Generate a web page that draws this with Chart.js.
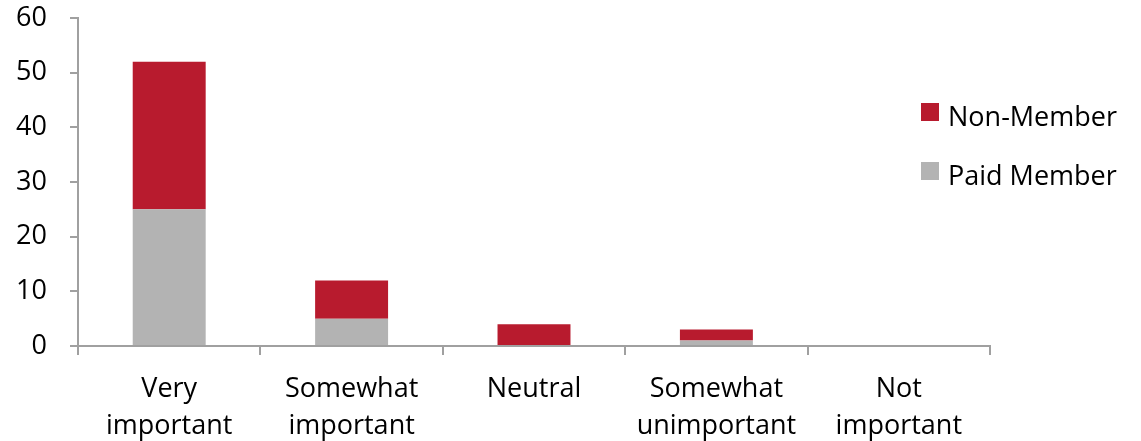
<!DOCTYPE html>
<html>
<head>
<meta charset="utf-8">
<script src="https://cdn.jsdelivr.net/npm/chart.js@4.4.0/dist/chart.umd.min.js"></script>
<style>
  html, body { margin: 0; padding: 0; background: #fff; }
  #wrap { position: relative; width: 1141px; height: 441px; }
  #legend { position: absolute; left: 921px; top: 103px; font-family: 'Open Sans', sans-serif; font-size: 27px; color: #000; }
  #legend .item { display: flex; align-items: center; height: 18px; margin-bottom: 41px; white-space: nowrap; }
  #legend .box { width: 18px; height: 18px; margin-right: 9px; flex: none; }
  #legend .txt { position: relative; top: 3px; }
</style>
</head>
<body>
<div id="wrap">
  <canvas id="chart"></canvas>
  <div id="legend"></div>
</div>
<script>
// Importance ratings — stacked bars by membership type

const categories = [['Very', 'important'], ['Somewhat', 'important'], 'Neutral', ['Somewhat', 'unimportant'], ['Not', 'important']];
const paidMember = [25, 5, 0, 1, 0];
const nonMember  = [27, 7, 4, 2, 0];
const yTicks = [0, 10, 20, 30, 40, 50, 60];

const RED  = '#b81b2e';
const GREY = '#b3b3b3';
const AXIS = '#a0a0a0';

Chart.defaults.font = { family: "'Open Sans', sans-serif", size: 27 };
Chart.defaults.color = '#000';

const chart = new Chart(document.getElementById('chart'), {
  type: 'bar',
  data: {
    labels: categories,
    datasets: [
      { label: 'Paid Member', data: paidMember, backgroundColor: GREY },
      { label: 'Non-Member',  data: nonMember,  backgroundColor: RED },
    ],
  },
  options: {
    responsive: true,
    maintainAspectRatio: false,
    animation: false,
    layout: { padding: { top: 0, right: 151, left: 0, bottom: 0 } },
    categoryPercentage: 0.4,
    barPercentage: 1,
    plugins: { legend: { display: false }, tooltip: { enabled: false } },
    scales: {
      x: {
        stacked: true,
        grid: { display: true, drawOnChartArea: false, tickLength: 9, color: AXIS, lineWidth: 2 },
        border: { color: AXIS, width: 2 },
        ticks: { padding: 15, maxRotation: 0, font: { lineHeight: 1.4 } },
        afterFit: (s) => { s.height = 95; },
      },
      y: {
        stacked: true,
        min: 0,
        max: 60,
        afterBuildTicks: (s) => { s.ticks = yTicks.map(v => ({ value: v })); },
        grid: { display: true, drawOnChartArea: false, tickLength: 8, color: AXIS, lineWidth: 2 },
        border: { color: AXIS, width: 2 },
        ticks: { padding: 23 },
        afterFit: (s) => { s.width = 78; s.paddingTop = 18; },
      },
    },
  },
});

// legend: top of stack first
const legend = document.getElementById('legend');
chart.data.datasets.slice().reverse().forEach(ds => {
  const item = document.createElement('div');
  item.className = 'item';
  item.innerHTML = '<span class="box" style="background:' + ds.backgroundColor + '"></span><span class="txt">' + ds.label + '</span>';
  legend.appendChild(item);
});
</script>
</body>
</html>
